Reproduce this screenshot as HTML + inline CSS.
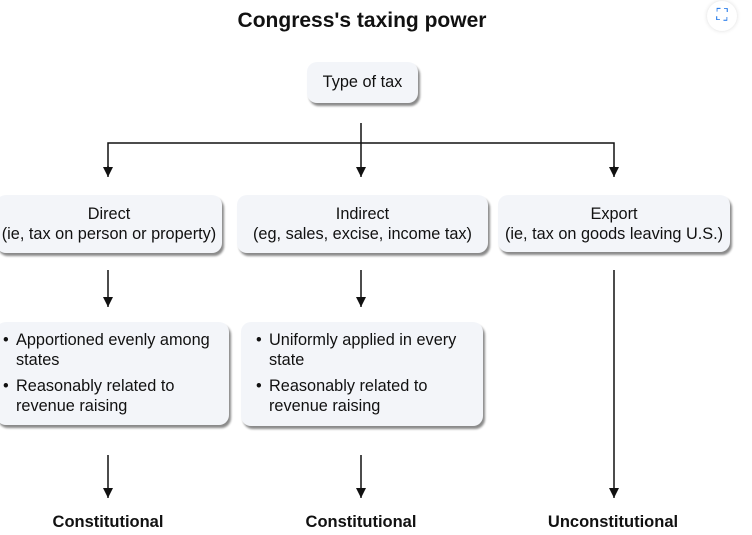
<!DOCTYPE html>
<html><head><style>
body{margin:0;width:752px;height:535px;background:#fff;position:relative;overflow:hidden;font-family:"Liberation Sans",sans-serif;color:#111}
.box{position:absolute;background:#f3f5f9;border-radius:10px;box-shadow:2px 3px 2px #8a8a8a;font-size:16.3px;text-align:center;line-height:20px}
.bul{text-align:left;padding-top:8px}
.bul div{position:relative;padding-left:17px}
.bul div:before{content:"•";position:absolute;left:4px}
.lbl{position:absolute;font-weight:bold;font-size:16.5px;width:200px;text-align:center;top:513px}
</style></head><body>
<div style="position:absolute;top:9px;left:0;width:724px;text-align:center;font-weight:bold;font-size:21px">Congress's taxing power</div>
<div style="position:absolute;left:707px;top:1px;width:30px;height:30px;border-radius:50%;background:#fff;box-shadow:0 0 4px #ddd;color:#1a73e8;font-size:16px;text-align:center;line-height:30px">⛶</div>
<svg width="752" height="535" style="position:absolute;left:0;top:0">
<defs><marker id="a" markerWidth="10" markerHeight="10" refX="5" refY="10" orient="0" markerUnits="userSpaceOnUse"><path d="M0,0 L10,0 L5,10z" fill="#111"/></marker></defs>
<g stroke="#111" stroke-width="1.5" fill="none">
<path d="M361,123 V177" marker-end="url(#a)"/>
<path d="M108,170 V143 H614 V170" />
<path d="M108,166 V177" marker-end="url(#a)"/><path d="M614,166 V177" marker-end="url(#a)"/>
<path d="M108,270 V307" marker-end="url(#a)"/>
<path d="M361,270 V307" marker-end="url(#a)"/>
<path d="M108,455 V498" marker-end="url(#a)"/>
<path d="M361,455 V498" marker-end="url(#a)"/>
<path d="M614,270 V498" marker-end="url(#a)"/>
</g></svg>
<div class="box" style="left:307px;top:62px;width:111px;height:41px;line-height:41px">Type of tax</div>
<div class="box" style="left:-4px;top:195px;width:226px;height:58px;padding-top:9px;box-sizing:border-box">Direct<br>(ie, tax on person or property)</div>
<div class="box" style="left:237px;top:195px;width:251px;height:58px;padding-top:9px;box-sizing:border-box">Indirect<br>(eg, sales, excise, income tax)</div>
<div class="box" style="left:498px;top:195px;width:232px;height:57px;padding-top:9px;box-sizing:border-box">Export<br>(ie, tax on goods leaving U.S.)</div>
<div class="box bul" style="left:-4px;top:322px;width:233px;height:103px;box-sizing:border-box;padding-left:3px;padding-right:8px">
<div style="margin-bottom:6px">Apportioned evenly among states</div><div>Reasonably related to<br>revenue raising</div></div>
<div class="box bul" style="left:241px;top:322px;width:242px;height:104px;box-sizing:border-box;padding-left:11px;padding-right:8px">
<div style="margin-bottom:6px">Uniformly applied in every<br>state</div><div>Reasonably related to<br>revenue raising</div></div>
<div class="lbl" style="left:8px">Constitutional</div>
<div class="lbl" style="left:261px">Constitutional</div>
<div class="lbl" style="left:513px">Unconstitutional</div>
</body></html>
